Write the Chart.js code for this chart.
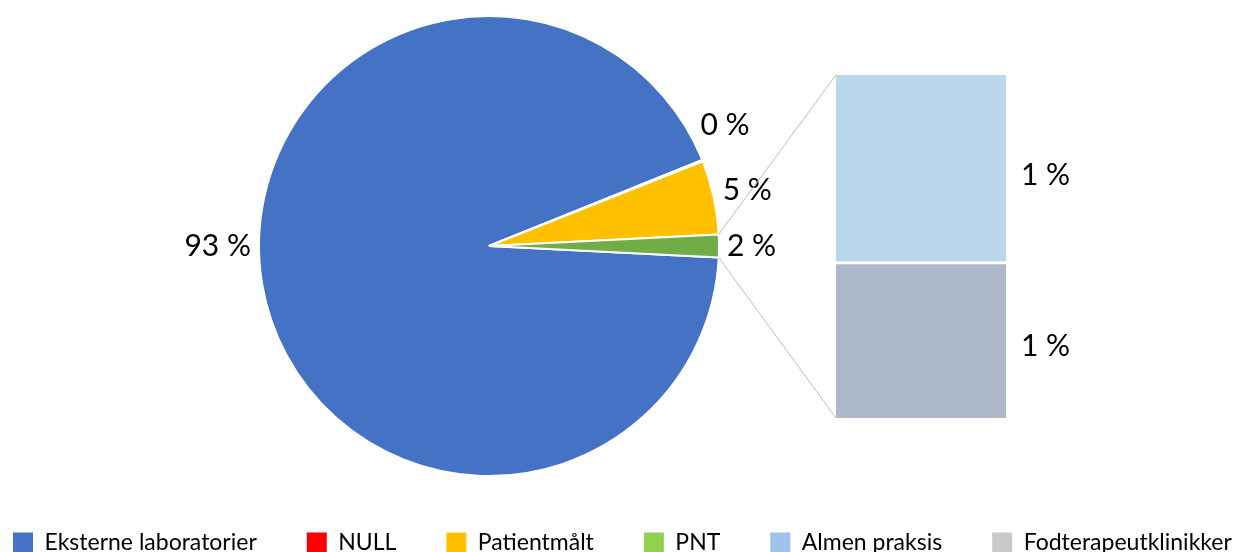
<!DOCTYPE html>
<html>
<head>
<meta charset="utf-8">
<script src="https://cdn.jsdelivr.net/npm/chart.js@4"></script>
<style>
  html, body { margin: 0; padding: 0; background: #fff; width: 1252px; height: 552px; overflow: hidden; }
  #pieBox { position: absolute; left: -37px; top: 0; width: 1400px; height: 564px; }
  #barBox { position: absolute; left: 836px; top: 75px; width: 250px; height: 343px; }
</style>
</head>
<body>
<div id="pieBox"><canvas id="pieChart"></canvas></div>
<div id="barBox"><canvas id="barChart"></canvas></div>
<script>
// main pie (last slice is the part split out into the bar)
const pieLabels = ['Eksterne laboratorier', 'NULL', 'Patientmålt', 'Andet'];
const pieValues = [93.1, 0.1, 5.2, 1.6];
const pieColors = ['#4472C4', '#FF0000', '#FFC000', '#70AD47'];

// bar of pie, bottom segment first
const barLabels = ['Fodterapeutklinikker', 'Almen praksis'];
const barValues = [0.73, 0.87];
const barColors = ['#ABB9C9', '#BAD7EB'];

// legend entries as shown under the chart
const legendLabels = ['Eksterne laboratorier', 'NULL', 'Patientmålt', 'PNT', 'Almen praksis', 'Fodterapeutklinikker'];
const legendColors = ['#4472C4', '#FF0000', '#FFC000', '#92D050', '#9DC3E6', '#C9C9C9'];

const FONT = 'Lato, "Open Sans", sans-serif';
const pieCenter = { x: 489, y: 246 }; // page coords
const pieRadius = 230;
const pieLabelAngles = { 0: 180, 1: -27 }; // degrees, where the original put these two labels

const pieTotal = pieValues.reduce((a, b) => a + b, 0);
const barTotal = barValues.reduce((a, b) => a + b, 0);

// put the pie where it sits in the original, independent of the legend
const pinPieArea = {
  id: 'pinPieArea',
  afterLayout(chart) {
    const off = chart.canvas.getBoundingClientRect();
    const cx = pieCenter.x - off.left;
    const cy = pieCenter.y - off.top;
    Object.assign(chart.chartArea, {
      left: cx - pieRadius, right: cx + pieRadius,
      top: cy - pieRadius, bottom: cy + pieRadius,
      width: 2 * pieRadius, height: 2 * pieRadius
    });
  }
};

const pieValueLabels = {
  id: 'pieValueLabels',
  afterDatasetsDraw(chart) {
    const ctx = chart.ctx;
    const meta = chart.getDatasetMeta(0);
    ctx.save();
    ctx.font = '30px ' + FONT;
    ctx.fillStyle = '#000';
    ctx.textAlign = 'center';
    ctx.textBaseline = 'middle';
    meta.data.forEach((arc, i) => {
      const txt = Math.round(pieValues[i]) + ' %';
      const a = (i in pieLabelAngles) ? pieLabelAngles[i] * Math.PI / 180 : (arc.startAngle + arc.endAngle) / 2;
      const w = ctx.measureText(txt).width;
      const h = 22;
      const ext = Math.abs(Math.cos(a)) * w / 2 + Math.abs(Math.sin(a)) * h / 2;
      const d = arc.outerRadius + 8 + ext;
      ctx.fillText(txt, arc.x + d * Math.cos(a), arc.y + d * Math.sin(a));
    });
    ctx.restore();
  }
};

// grey lines from the small slice to the bar
const connectors = {
  id: 'connectors',
  afterDraw(chart) {
    const bar = Chart.getChart('barChart');
    if (!bar) return;
    const arc = chart.getDatasetMeta(0).data[3];
    const pr = chart.canvas.getBoundingClientRect();
    const br = bar.canvas.getBoundingClientRect();
    const dx = br.left - pr.left, dy = br.top - pr.top;
    const low = bar.getDatasetMeta(0).data[0];
    const high = bar.getDatasetMeta(1).data[0];
    const left = low.x - low.width / 2 + dx;
    const R = arc.outerRadius;
    const ctx = chart.ctx;
    ctx.save();
    ctx.strokeStyle = '#BFBFBF';
    ctx.lineWidth = 1;
    ctx.beginPath();
    ctx.moveTo(arc.x + R * Math.cos(arc.startAngle), arc.y + R * Math.sin(arc.startAngle));
    ctx.lineTo(left, high.y + dy);
    ctx.moveTo(arc.x + R * Math.cos(arc.endAngle), arc.y + R * Math.sin(arc.endAngle));
    ctx.lineTo(left, low.base + dy);
    ctx.stroke();
    ctx.restore();
  }
};

const barValueLabels = {
  id: 'barValueLabels',
  afterDatasetsDraw(chart) {
    const ctx = chart.ctx;
    ctx.save();
    ctx.font = '30px ' + FONT;
    ctx.fillStyle = '#000';
    ctx.textAlign = 'left';
    ctx.textBaseline = 'middle';
    chart.data.datasets.forEach((ds, i) => {
      const el = chart.getDatasetMeta(i).data[0];
      ctx.fillText(Math.round(barValues[i]) + ' %', el.x + el.width / 2 + 15, (el.y + el.base) / 2 + 7);
    });
    ctx.restore();
  }
};

new Chart('barChart', {
  type: 'bar',
  data: {
    labels: [''],
    datasets: barLabels.map((l, i) => ({
      label: l,
      data: [barValues[i]],
      backgroundColor: barColors[i],
      borderColor: '#fff',
      borderWidth: i === 0 ? { top: 3, left: 0, right: 0, bottom: 0 } : 0,
      borderSkipped: false,
      barPercentage: 1,
      categoryPercentage: 1
    }))
  },
  options: {
    responsive: true,
    maintainAspectRatio: false,
    animation: false,
    layout: { padding: { right: 80 } },
    plugins: { legend: { display: false }, tooltip: { enabled: false } },
    scales: {
      x: { display: false, stacked: true },
      y: { display: false, stacked: true, min: 0, max: barTotal }
    }
  },
  plugins: [barValueLabels]
});

new Chart('pieChart', {
  type: 'pie',
  data: {
    labels: pieLabels,
    datasets: [{
      data: pieValues,
      backgroundColor: pieColors,
      borderColor: '#fff',
      borderWidth: 2
    }]
  },
  options: {
    responsive: true,
    maintainAspectRatio: false,
    animation: false,
    radius: pieRadius,
    rotation: 90 + pieValues[3] / pieTotal * 180,
    plugins: {
      tooltip: { enabled: false },
      legend: {
        position: 'bottom',
        align: 'start',
        onClick: null,
        labels: {
          padding: 50,
          boxWidth: 20,
          boxHeight: 20,
          color: '#000',
          font: { family: FONT, size: 23 },
          generateLabels: () => legendLabels.map((t, i) => ({
            text: t, fillStyle: legendColors[i], strokeStyle: legendColors[i],
            lineWidth: 0, hidden: false, index: i
          }))
        }
      }
    }
  },
  plugins: [pinPieArea, pieValueLabels, connectors]
});
</script>
</body>
</html>
